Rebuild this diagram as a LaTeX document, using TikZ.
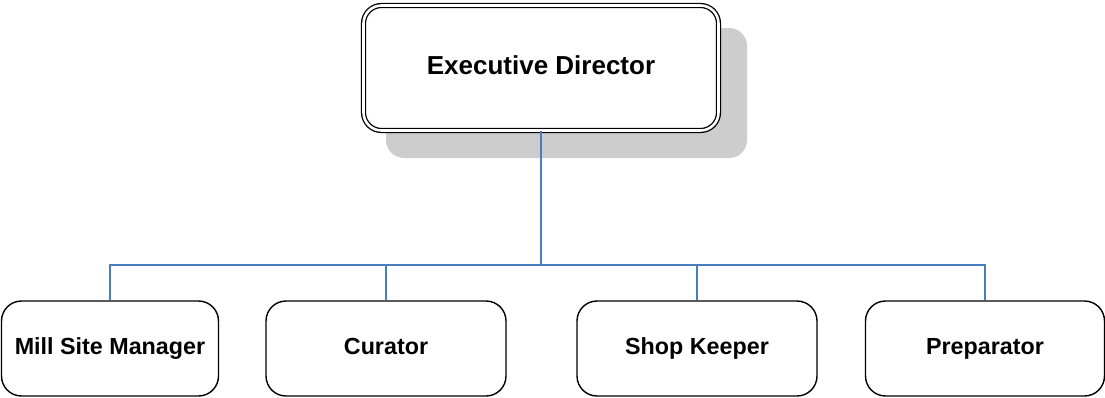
\documentclass[tikz,border=0pt]{standalone}
\usepackage{fontspec}
\setmainfont{Liberation Sans}
\definecolor{connblue}{RGB}{74,126,190}
\definecolor{shadowgray}{RGB}{205,205,205}
\begin{document}
\begin{tikzpicture}[x=1pt,y=-1pt,
  childbox/.style={draw=black, line width=1.4pt, rounded corners=20pt, fill=white,
    minimum height=95pt, inner sep=0pt, font=\fontsize{23.3}{26}\selectfont\bfseries,
    text height=16.8pt, text depth=4.6pt},
  execbox/.style={draw=black, line width=1.3pt, double=white, double distance=2.6pt,
    rounded corners=18pt, fill=white, minimum width=355pt, minimum height=125pt,
    inner sep=0pt, font=\fontsize{26}{30}\selectfont\bfseries,
    text height=18.7pt, text depth=5.2pt},
  conn/.style={draw=connblue, line width=1.4pt}]
\useasboundingbox (0,0) rectangle (1105,397);
\fill[shadowgray, rounded corners=18pt] (386,28) rectangle (747,158);
\node[execbox] (exec) at (541,68) {Executive Director};
\node[childbox, minimum width=217pt] (mill) at (110,348.5) {Mill Site Manager};
\node[childbox, minimum width=240pt] (cur) at (386,348.5) {Curator};
\node[childbox, minimum width=240pt] (shop) at (697,348.5) {Shop Keeper};
\node[childbox, minimum width=239pt] (prep) at (985,348.5) {Preparator};
\coordinate (bus) at (541,265);
\draw[conn] (exec.south) -- (bus);
\draw[conn] (bus) -| (mill.north);
\draw[conn] (bus) -| (cur.north);
\draw[conn] (bus) -| (shop.north);
\draw[conn] (bus) -| (prep.north);
\end{tikzpicture}
\end{document}
